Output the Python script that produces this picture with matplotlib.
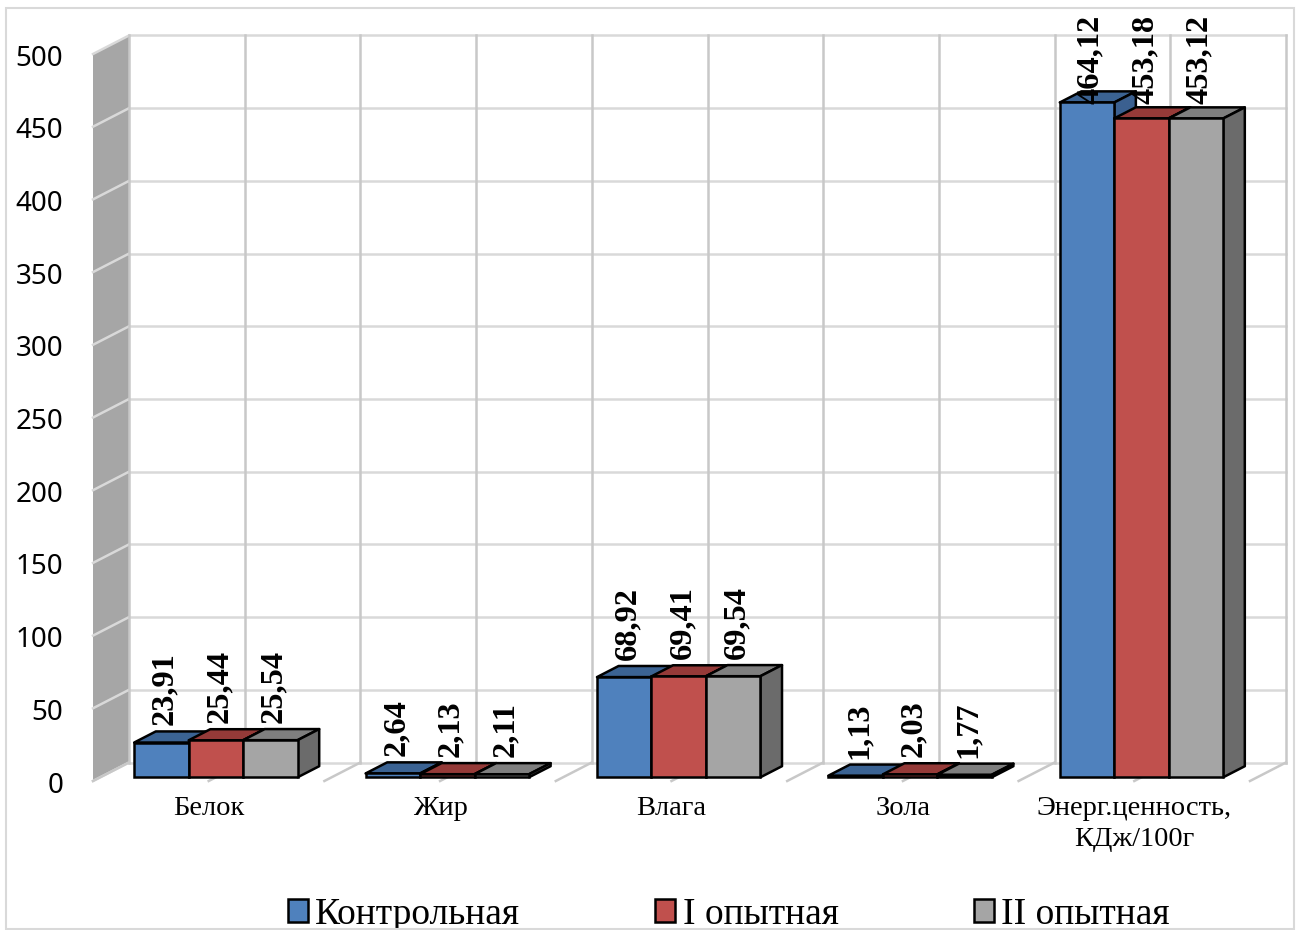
import matplotlib
matplotlib.use("Agg")

import matplotlib.pyplot as plt
from matplotlib.lines import Line2D
from matplotlib.patches import Patch, Polygon, Rectangle
from matplotlib.transforms import Affine2D, IdentityTransform

# ------------------------------------------------------------
# DATA
# ------------------------------------------------------------
categories = ["Белок", "Жир", "Влага", "Зола", "Энерг.ценность,\nКДж/100г"]
series_names = ["Контрольная", "I опытная", "II опытная"]

control = [23.91, 2.64, 68.92, 1.13, 464.12]
group_one = [25.44, 2.13, 69.41, 2.03, 453.18]
group_two = [25.54, 2.11, 69.54, 1.77, 453.12]

y_ticks = [0, 50, 100, 150, 200, 250, 300, 350, 400, 450, 500]

# ------------------------------------------------------------
# STYLE
# ------------------------------------------------------------
front_colors = ["#4f81bd", "#c0504d", "#a5a5a5"]
top_colors = ["#3b6393", "#953a38", "#7f7f7f"]
side_colors = ["#3b6090", "#8f3a38", "#6b6b6b"]

SERIF = "Liberation Serif"
W, H = 1298, 930

# pseudo 3D: how far the back wall sits from the front plane, in pixels
DX, DY = 36, 18.5
BAR_FRONT, BAR_BACK = 0.2, 0.8
BAR_W = 0.2354
EDGE = 1.8

fig = plt.figure(figsize=(W / 100, H / 100), dpi=100)
ax = fig.add_axes([93 / W, (H - 781) / H, 1157 / W, 727 / H])
ax.set_xlim(0, 5)
ax.set_ylim(0, 500)
ax.patch.set_visible(False)
for spine in ax.spines.values():
    spine.set_visible(False)


def project(x, y, depth):
    px, py = ax.transData.transform((x, y))
    return px + DX * depth, py + DY * depth


def add_face(points, **kwargs):
    ax.add_patch(Polygon(points, closed=True, transform=IdentityTransform(),
                         clip_on=False, joinstyle="round", **kwargs))


def add_line(p0, p1, color, lw):
    ax.add_line(Line2D([p0[0], p1[0]], [p0[1], p1[1]], color=color, lw=lw,
                       transform=IdentityTransform(), clip_on=False, zorder=1))


# ------------------------------------------------------------
# OUTER FRAME
# ------------------------------------------------------------
fig.add_artist(Rectangle((6, 1), 1288, 921, fill=False, edgecolor="#d9d9d9",
                         lw=1.5, transform=IdentityTransform()))

# ------------------------------------------------------------
# WALLS AND GRID
# ------------------------------------------------------------
add_face([project(0, 0, 0), project(0, 0, 1), project(0, 500, 1), project(0, 500, 0)],
         facecolor="#a6a6a6", edgecolor="none", zorder=0.5)

for tick in y_ticks:
    add_line(project(0, tick, 0), project(0, tick, 1), "#d9d9d9", 1.8)
    add_line(project(0, tick, 1), project(5, tick, 1), "#d9d9d9", 1.8)

for k in range(11):
    x = k / 2
    add_line(project(x, 0, 1), project(x, 500, 1), "#c8c8c8", 1.8)
    add_line(project(x, 0, 0), project(x, 0, 1), "#c8c8c8", 1.8)

# ------------------------------------------------------------
# BARS
# ------------------------------------------------------------
front_shift = ax.transData + Affine2D().translate(DX * BAR_FRONT, DY * BAR_FRONT)
all_series = [control, group_one, group_two]

for c in range(len(categories)):
    for s, values in enumerate(all_series):
        left = c + 0.5 - 1.5 * BAR_W + s * BAR_W
        right = left + BAR_W
        v = values[c]

        add_face([project(left, v, BAR_FRONT), project(right, v, BAR_FRONT),
                  project(right, v, BAR_BACK), project(left, v, BAR_BACK)],
                 facecolor=top_colors[s], edgecolor="black", lw=EDGE, zorder=3 + s)
        add_face([project(right, 0, BAR_FRONT), project(right, 0, BAR_BACK),
                  project(right, v, BAR_BACK), project(right, v, BAR_FRONT)],
                 facecolor=side_colors[s], edgecolor="black", lw=EDGE, zorder=3 + s)
        ax.bar(left, v, BAR_W, align="edge", color=front_colors[s], edgecolor="black",
               lw=EDGE, transform=front_shift, clip_on=False, zorder=3 + s)

# value labels, decimal comma; kept below the top of the frame
for c in range(len(categories)):
    for s, values in enumerate(all_series):
        v = values[c]
        centre = c + 0.5 - 1.5 * BAR_W + (s + 0.5) * BAR_W
        px, py = project(centre, v, BAR_BACK)
        ax.text(px - 18, min(py + 6, H - 104), f"{v:.2f}".replace(".", ","),
                rotation=90, ha="center", va="bottom", family=SERIF, weight="bold",
                fontsize=23.3, color="black", transform=IdentityTransform(),
                clip_on=False, zorder=10)

# ------------------------------------------------------------
# AXES TEXT
# ------------------------------------------------------------
ax.set_ylim(0, 500)
ax.set_xlim(0, 5)
ax.set_yticks(y_ticks)
ax.set_yticklabels([str(t) for t in y_ticks], family="Noto Sans", fontsize=20)
ax.set_xticks([c + 0.5 for c in range(len(categories))])
ax.set_xticklabels(categories, family=SERIF, fontsize=20.5, linespacing=1.3)
ax.tick_params(axis="y", length=0, pad=21.5)
ax.tick_params(axis="x", length=0, pad=10.7)

# nudge the value axis numbers down a little
for label in ax.get_yticklabels():
    label.set_transform(label.get_transform() + Affine2D().translate(0, -1))

# ------------------------------------------------------------
# LEGEND
# ------------------------------------------------------------
handles = [Patch(facecolor=front_colors[s], edgecolor="black", lw=EDGE, label=series_names[s])
           for s in range(3)]
ax.legend(handles=handles, ncols=3, frameon=False, loc="lower left",
          bbox_to_anchor=(288, -2), bbox_transform=IdentityTransform(),
          borderpad=0, borderaxespad=0, columnspacing=3.6, handlelength=0.53,
          handleheight=0.56, handletextpad=0.2,
          prop={"family": SERIF, "size": 27})

fig.savefig("out.png", dpi=100)
